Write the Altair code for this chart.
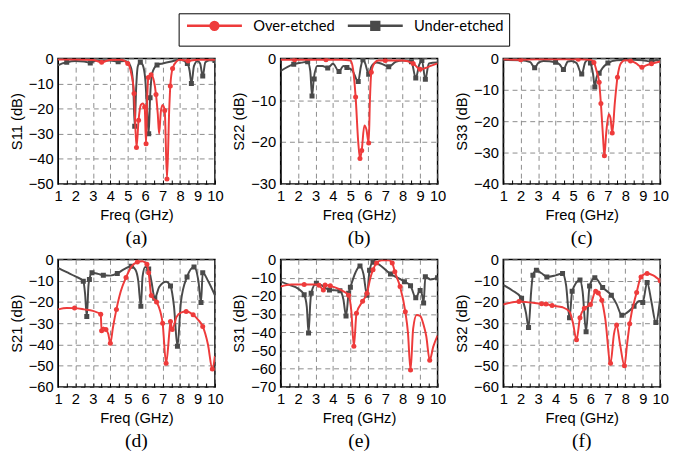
import altair as alt
import pandas as pd

OVER = "Over-etched"
UNDER = "Under-etched"
SERIES = [OVER, UNDER]
RED = "#EE3B3B"
GRAY = "#4A4A4A"
COLORS = [RED, GRAY]
# legend glyphs: a line segment with a circle / square in its middle (unit symbol coordinates)
LEGEND_SHAPES = ["M6,-2.5L6,-2.5M6,2.5L6,2.5M-1,0H13M7,0A1,1,0,1,1,5,0A1,1,0,1,1,7,0Z",
                 "M6,-2.5L6,-2.5M6,2.5L6,2.5M-1,0H13M5,-1H7V1H5Z"]
FREQ_TICKS = [1 + 0.5 * k for k in range(19)]

LETTERS = ["(a)", "(b)", "(c)", "(d)", "(e)", "(f)"]
YTITLES = ["S11 (dB)", "S22 (dB)", "S33 (dB)", "S21 (dB)", "S31 (dB)", "S32 (dB)"]
YMIN = [-50, -30, -40, -60, -70, -60]

# (freq GHz, dB, marker flag)
A_OVER = [(1.0,-0.4,0),(2.0,-0.4,0),(3.0,-0.6,0),(3.5,-1.5,1),(4.0,-0.6,0),(4.6,-0.5,0),(5.0,-2.0,1),
          (5.2,-6,0),(5.36,-14,1),(5.5,-35.5,1),(5.62,-24.6,1),(5.75,-18.5,0),(5.86,-18,0),(5.97,-19.4,1),
          (6.05,-34,1),(6.12,-15,0),(6.18,-7.6,1),(6.34,-6.5,1),(6.5,-9,0),(6.62,-14.4,1),(6.72,-22,0),
          (6.8,-30,0),(6.9,-21,0),(7.0,-18.5,0),(7.12,-20.7,1),(7.25,-48,1),(7.38,-20,0),(7.44,-11,1),
          (7.57,-4,1),(7.8,-1.2,0),(8.0,-0.5,0),(8.46,-1,1),(9.0,-0.5,0),(10.0,-0.5,0)]
A_UNDER = [(1.0,-2.8,0),(1.25,-2,0),(1.5,-1.5,1),(2.0,-1.0,0),(2.5,-1.2,0),(2.85,-1.8,1),(3.2,-0.8,0),
           (4.0,-0.8,0),(4.45,-1.3,1),(4.8,-1.0,0),(5.0,-1.5,0),(5.2,-4,0),(5.32,-12,0),(5.4,-27,1),
           (5.48,-12,0),(5.58,-3,0),(5.72,-1.5,1),(5.85,-2.5,0),(6.0,-8,0),(6.12,-22,0),(6.2,-30,1),
           (6.28,-15.7,1),(6.4,-6,0),(6.68,-2.6,1),(7.0,-2,0),(7.5,-1.2,0),(8.0,-0.5,0),(8.42,-2,1),
           (8.55,-5,0),(8.65,-10,1),(8.8,-3,0),(9.0,-1,0),(9.15,-2,0),(9.3,-7,1),(9.45,-1.5,0),
           (9.7,-0.7,0),(10.0,-0.8,1)]
B_OVER = [(1.0,-0.3,0),(1.8,-0.3,1),(3.0,-0.3,0),(3.6,-0.3,1),(4.5,-0.3,0),(5.0,-0.5,0),(5.15,-2.5,0),
          (5.3,-9.2,1),(5.45,-20,0),(5.55,-23.9,1),(5.65,-22,1),(5.8,-16,0),(5.92,-17,0),(6.05,-20.2,1),
          (6.12,-10,0),(6.2,-3.3,1),(6.4,-1,0),(6.6,-0.5,0),(7.0,-0.5,1),(8.0,-0.5,0),(8.6,-1.2,1),
          (9.0,-2.6,1),(9.3,-2.3,0),(9.6,-1.8,0),(10.0,-1.2,0)]
B_UNDER = [(1.0,-3,0),(1.4,-2,0),(1.75,-1.4,1),(2.2,-1.0,0),(2.55,-0.8,1),(2.7,-3,0),(2.8,-9,1),
           (2.9,-4.9,1),(3.1,-1.8,0),(3.4,-1.8,0),(3.7,-2.3,1),(4.0,-1.3,0),(4.35,-3.1,1),(4.6,-1.8,0),
           (4.8,-2.2,1),(5.1,-2.8,0),(5.45,-5.5,1),(5.6,-2,0),(5.72,-0.3,1),(5.85,-1.2,0),(6.05,-3.8,1),
           (6.2,-2,0),(6.5,-1,0),(6.8,-1.3,0),(7.2,-2,1),(7.6,-0.8,0),(8.0,-0.5,0),(8.5,-0.8,1),
           (8.75,-4.7,1),(8.95,-1.5,0),(9.1,-0.5,1),(9.3,-5,1),(9.5,-1.2,0),(10.0,-1,0)]
C_OVER = [(1.0,-0.3,0),(2.0,-0.4,1),(3.0,-0.3,0),(4.0,-0.3,0),(5.3,-0.3,1),(6.0,-0.4,0),(6.2,-1.3,1),
          (6.35,-4,0),(6.5,-7.6,1),(6.6,-14.4,1),(6.72,-25,0),(6.8,-31,1),(6.9,-24,0),(7.05,-17.8,0),
          (7.15,-19,0),(7.25,-23.8,1),(7.4,-14,0),(7.55,-6,1),(7.75,-1.5,0),(8.0,-0.6,0),(8.3,-0.8,1),
          (8.6,-1.5,0),(8.95,-2.8,1),(9.2,-2.2,0),(9.5,-1.7,1),(10.0,-1,0)]
C_UNDER = [(1.0,-0.5,0),(2.0,-0.6,0),(2.55,-1.2,0),(2.8,-3,1),(3.0,-1.5,0),(3.3,-0.8,0),(4.0,-1.2,1),
           (4.25,-2,0),(4.45,-3.5,1),(4.7,-1,0),(4.9,-0.8,0),(5.2,-1.5,0),(5.5,-5,1),(5.7,-1.2,0),
           (5.85,-0.5,0),(6.0,-1.5,1),(6.15,-5,0),(6.25,-9.1,1),(6.35,-6,0),(6.5,-4.7,1),(6.7,-3,0),
           (7.0,-1.5,1),(7.5,-0.6,0),(8.0,-0.5,0),(8.5,-0.4,0),(9.0,-0.6,0),(9.5,-1.0,1),(9.8,-0.5,0),
           (10.0,-0.8,0)]
D_OVER = [(1.0,-23.5,0),(1.5,-22.8,0),(1.95,-22.9,1),(2.5,-23.5,0),(3.0,-24.2,0),(3.45,-25.8,1),
          (3.5,-33.5,1),(3.6,-32,0),(3.75,-33,1),(3.88,-35,0),(4.0,-39.4,1),(4.15,-32,0),(4.35,-23.5,1),
          (4.6,-15,0),(4.9,-8.5,1),(5.2,-3.5,0),(5.55,-1.2,1),(5.85,-0.8,0),(6.1,-2.3,1),(6.2,-6.3,1),
          (6.35,-17,1),(6.65,-20,1),(6.85,-24,0),(7.0,-30,1),(7.2,-48.9,1),(7.4,-33,0),(7.45,-29.2,1),
          (7.55,-33,1),(7.8,-27,0),(8.05,-25,0),(8.35,-24.5,1),(8.75,-26,1),(9.05,-28.5,0),(9.3,-31.5,1),
          (9.6,-40,0),(9.85,-51.5,1),(10.0,-45.4,0)]
D_UNDER = [(1.0,-4,0),(1.5,-6,0),(2.0,-8,0),(2.45,-10.2,1),(2.55,-16,0),(2.65,-26.9,1),(2.75,-12,0),
           (2.8,-9.4,1),(2.95,-6.3,1),(3.3,-6.8,0),(3.6,-7.4,1),(4.0,-7.6,0),(4.4,-6.6,1),(4.8,-4.5,0),
           (5.2,-3.2,1),(5.45,-5,0),(5.6,-10,0),(5.75,-22,1),(5.85,-8,0),(6.0,-3.5,0),(6.2,-4.5,1),
           (6.35,-10,0),(6.55,-18.2,1),(6.8,-13,0),(7.2,-10.5,0),(7.45,-12.5,1),(7.65,-22,0),
           (7.85,-40.9,1),(8.05,-20,0),(8.4,-8.2,1),(8.8,-3.5,1),(9.05,-10,0),(9.2,-20.2,1),(9.3,-6.2,1),
           (9.6,-10,0),(10.0,-16.9,0)]
E_OVER = [(1.0,-14.9,0),(1.6,-13.8,0),(2.35,-13.8,1),(3.0,-13.8,0),(3.2,-14.2,1),(3.45,-16.7,1),
          (3.55,-14,1),(3.85,-14.5,1),(4.3,-16,0),(4.6,-17.5,0),(4.9,-19.7,1),(5.05,-28,0),(5.2,-47.6,1),
          (5.35,-29.6,1),(5.7,-23,1),(5.95,-18.5,1),(6.15,-10,0),(6.3,-5.6,1),(6.5,-2,1),(6.8,-0.5,0),
          (7.2,-0.5,0),(7.4,-2,1),(7.55,-6.8,1),(7.85,-14.9,1),(8.15,-28.7,1),(8.3,-40,0),(8.45,-60.7,1),
          (8.6,-38,0),(8.8,-30.5,0),(9.0,-31,0),(9.2,-36,0),(9.35,-42,0),(9.55,-55.3,1),(9.75,-48,0),
          (10.0,-41.8,0)]
E_UNDER = [(1.0,-12.2,0),(1.5,-14,0),(2.0,-16,0),(2.35,-19.4,1),(2.5,-26,0),(2.6,-40.4,1),(2.7,-24,0),
           (2.75,-18.5,1),(3.05,-13.1,1),(3.3,-14,0),(3.8,-16.7,1),(4.4,-17.2,1),(4.6,-22,0),(4.75,-31,1),
           (4.9,-18.5,1),(5.0,-15.3,1),(5.3,-7,0),(5.55,-3.6,1),(5.75,-8,0),(5.95,-19.6,1),(6.1,-5.9,1),
           (6.3,-1.5,1),(6.6,-2.5,0),(7.3,-8,1),(7.7,-10,0),(8.1,-12.2,1),(8.45,-14.5,1),(8.75,-21,1),
           (9.0,-17,1),(9.1,-19,0),(9.2,-23.9,1),(9.3,-9.5,1),(9.6,-11,0),(10.0,-10,1)]
F_OVER = [(1.0,-21.2,0),(1.9,-19.8,1),(2.5,-20.2,0),(3.2,-20.9,1),(3.45,-21,1),(3.8,-21.7,1),
          (4.4,-22.5,0),(4.8,-24.5,0),(5.0,-30,0),(5.2,-37.8,1),(5.4,-27.4,1),(5.65,-23,1),(6.0,-21.2,1),
          (6.3,-15,1),(6.45,-15.8,1),(6.65,-19.2,1),(6.85,-28,0),(7.15,-48.9,1),(7.35,-35,0),
          (7.5,-30.9,1),(7.7,-40,0),(7.95,-50,1),(8.1,-40,0),(8.25,-30.2,1),(8.65,-15.5,1),(8.9,-8.2,1),
          (9.25,-6.6,1),(9.6,-7.5,0),(10.0,-10,1)]
F_UNDER = [(1.0,-12,0),(1.5,-14.5,0),(2.05,-18.2,1),(2.3,-25,0),(2.45,-32,1),(2.6,-15,0),(2.7,-7.4,1),
           (2.9,-5.1,1),(3.2,-6.5,0),(3.5,-8.2,1),(4.0,-7.5,0),(4.4,-6.6,1),(4.6,-12,0),(4.8,-27.4,1),
           (4.95,-15,1),(5.4,-9.7,1),(5.55,-15,0),(5.75,-34,1),(5.95,-12.5,1),(6.25,-8.6,1),(6.7,-13.2,1),
           (7.2,-16.9,1),(7.5,-21,0),(7.8,-26.3,1),(8.1,-25,0),(8.5,-22,1),(8.8,-19.5,0),(9.0,-20.2,1),
           (9.25,-10.8,1),(9.5,-20,0),(9.75,-29.7,1),(10.0,-18.2,0)]

OVER_DATA = [A_OVER, B_OVER, C_OVER, D_OVER, E_OVER, F_OVER]
UNDER_DATA = [A_UNDER, B_UNDER, C_UNDER, D_UNDER, E_UNDER, F_UNDER]

PANEL_W = 160
INTEGER_TEST = "abs(datum.value - round(datum.value)) < 0.01"

LEGEND = alt.Legend(title=None, orient="none", legendX=123, legendY=-46, direction="horizontal",
                    strokeColor="black", padding=5, symbolSize=64, symbolStrokeWidth=2.5,
                    labelFont="Lato", labelFontSize=15, labelColor="black", labelOffset=56,
                    columnPadding=7, labelLimit=200, fillColor="white")


def make_panel(i, height, with_legend=False):
    over = pd.DataFrame(OVER_DATA[i], columns=["f", "db", "mk"]).assign(series=OVER)
    under = pd.DataFrame(UNDER_DATA[i], columns=["f", "db", "mk"]).assign(series=UNDER)
    ymin = YMIN[i]
    xenc = alt.X("f:Q", scale=alt.Scale(domain=[1, 10], nice=False, zero=False),
                 axis=alt.Axis(values=FREQ_TICKS, title="Freq (GHz)",
                               labelExpr=f"{INTEGER_TEST} ? format(datum.value, 'd') : ''",
                               gridOpacity={"condition": {"test": INTEGER_TEST, "value": 1}, "value": 0},
                               ticks=True, tickSize=4, tickColor="black", tickWidth=1,
                               offset=-4, domain=False))
    yenc = alt.Y("db:Q", scale=alt.Scale(domain=[ymin, 0], nice=False),
                 axis=alt.Axis(values=list(range(ymin, 1, 10)), title=YTITLES[i]))
    layers = []
    for df, color, shape in ((under, GRAY, "square"), (over, RED, "circle")):
        base = alt.Chart(df)
        layers.append(base.mark_line(interpolate="monotone", strokeWidth=2, clip=True, color=color)
                      .encode(x=xenc, y=yenc, order="f:Q"))
        layers.append(base.transform_filter(alt.datum.mk == 1)
                      .mark_point(filled=True, size=26, opacity=1, clip=True, color=color, shape=shape)
                      .encode(x=xenc, y=yenc))
    if with_legend:
        leg_df = pd.DataFrame({"series": SERIES})
        layers.append(
            alt.Chart(leg_df).transform_filter("false")
            .mark_point(opacity=1, strokeWidth=2.5)
            .encode(
                fill=alt.Fill("series:N", scale=alt.Scale(domain=SERIES, range=COLORS), legend=LEGEND),
                stroke=alt.Stroke("series:N", scale=alt.Scale(domain=SERIES, range=COLORS), legend=LEGEND),
                shape=alt.Shape("series:N", scale=alt.Scale(domain=SERIES, range=LEGEND_SHAPES),
                                legend=LEGEND),
            ))
    return alt.layer(*layers).properties(
        width=PANEL_W, height=height,
        title=alt.TitleParams(LETTERS[i], orient="bottom", anchor="middle",
                              font="Liberation Serif", fontSize=20, fontWeight="normal",
                              color="black", offset=6))


row1 = alt.hconcat(*[make_panel(i, 128, with_legend=(i == 0)) for i in range(3)], spacing=6)
row2 = alt.hconcat(*[make_panel(i, 130) for i in range(3, 6)], spacing=6)

chart = (alt.vconcat(row1, row2, spacing=3)
         .properties(padding={"left": 0, "top": 0, "right": 0, "bottom": 0})
         .configure_view(stroke="black", strokeWidth=1.5)
         .configure_axis(labelFont="Liberation Sans", labelFontSize=15, labelColor="black",
                         titleFont="Liberation Sans", titleFontSize=15, titleFontWeight="normal",
                         titleColor="black", grid=True, gridColor="#8c8c8c", gridDash=[5, 4],
                         gridWidth=1, ticks=False, domainColor="black", labelPadding=5,
                         titlePadding=4, labelOverlap=False, labelFlush=False))

chart.save("out.html", embed_options={"renderer": "svg", "actions": False})
